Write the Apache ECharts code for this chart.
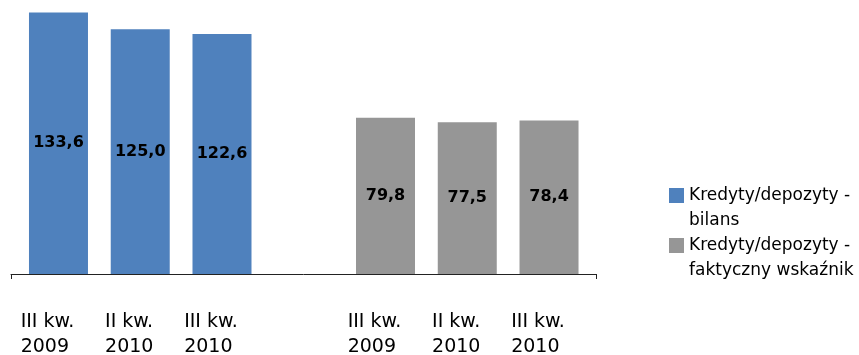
<!DOCTYPE html>
<html>
<head>
<meta charset="utf-8">
<script src="https://cdn.jsdelivr.net/npm/echarts@6/dist/echarts.min.js"></script>
<style>html,body{margin:0;padding:0;background:#fff}#c{width:859px;height:355px}</style>
</head>
<body>
<div id="c"></div>
<script>
var categories = ['III kw.\n2009', 'II kw.\n2010', 'III kw.\n2010', '', 'III kw.\n2009', 'II kw.\n2010', 'III kw.\n2010'];
var seriesNames = ['Kredyty/depozyty -\nbilans', 'Kredyty/depozyty -\nfaktyczny wskaźnik'];
var bilansValues = [133.6, 125.0, 122.6];
var faktycznyValues = [79.8, 77.5, 78.4];

var blueData = bilansValues.concat(['-', '-', '-', '-']);
var grayData = ['-', '-', '-', '-'].concat(faktycznyValues);

var FONT = 'DejaVu Sans';
var chart = echarts.init(document.getElementById('c'), null, {renderer: 'canvas'});
var labelCfg = {
  show: true,
  position: 'inside',
  color: '#000',
  fontFamily: FONT,
  fontWeight: 'bold',
  fontSize: 16,
  formatter: function (p) { return p.value.toFixed(1).replace('.', ','); }
};
chart.setOption({
  animation: false,
  backgroundColor: '#fff',
  grid: [
    {left: 17.6, right: 269.1, top: 0, bottom: 81, containLabel: false, outerBoundsMode: 'none'},
    {left: 11, right: 263, top: 0, bottom: 81, containLabel: false, outerBoundsMode: 'none'}
  ],
  legend: {
    orient: 'vertical',
    left: 669,
    top: 158,
    padding: 0,
    itemGap: -25,
    itemWidth: 15,
    itemHeight: 15,
    icon: 'rect',
    selectedMode: false,
    formatter: function (n) { return '\u00a0\n' + n; },
    textStyle: {fontFamily: FONT, fontSize: 17, color: '#000', lineHeight: 25},
    data: seriesNames
  },
  xAxis: [
    {
      type: 'category', gridIndex: 0, data: categories,
      axisLine: {show: false}, axisTick: {show: false},
      axisLabel: {
        interval: 0, margin: 36, align: 'center', padding: [0, 22, 0, 0],
        color: '#000', fontFamily: FONT, fontSize: 19, lineHeight: 25,
        formatter: function (v) {
          if (!v) return '';
          return v.split('\n').map(function (l) { return '{a|' + l + '}'; }).join('\n');
        },
        rich: {a: {align: 'left', fontFamily: FONT, fontSize: 19, lineHeight: 25, color: '#000'}}
      }
    },
    {
      type: 'value', gridIndex: 1, min: 0, max: 1, interval: 1,
      axisLine: {show: true, lineStyle: {color: '#222', width: 1}},
      axisTick: {show: true, length: 5, lineStyle: {color: '#222'}},
      axisLabel: {show: false}, splitLine: {show: false}
    }
  ],
  yAxis: [
    {type: 'value', gridIndex: 0, min: 0, max: 140, show: false, splitLine: {show: false}},
    {type: 'value', gridIndex: 1, min: 0, max: 1, show: false, splitLine: {show: false}}
  ],
  series: [
    {
      name: seriesNames[0], type: 'bar', xAxisIndex: 0, yAxisIndex: 0,
      data: blueData, barWidth: 59, barGap: '-100%',
      itemStyle: {color: '#4F81BD'}, label: labelCfg
    },
    {
      name: seriesNames[1], type: 'bar', xAxisIndex: 0, yAxisIndex: 0,
      data: grayData, barWidth: 59, barGap: '-100%',
      itemStyle: {color: '#969696'}, label: labelCfg
    }
  ]
});
</script>
</body>
</html>
